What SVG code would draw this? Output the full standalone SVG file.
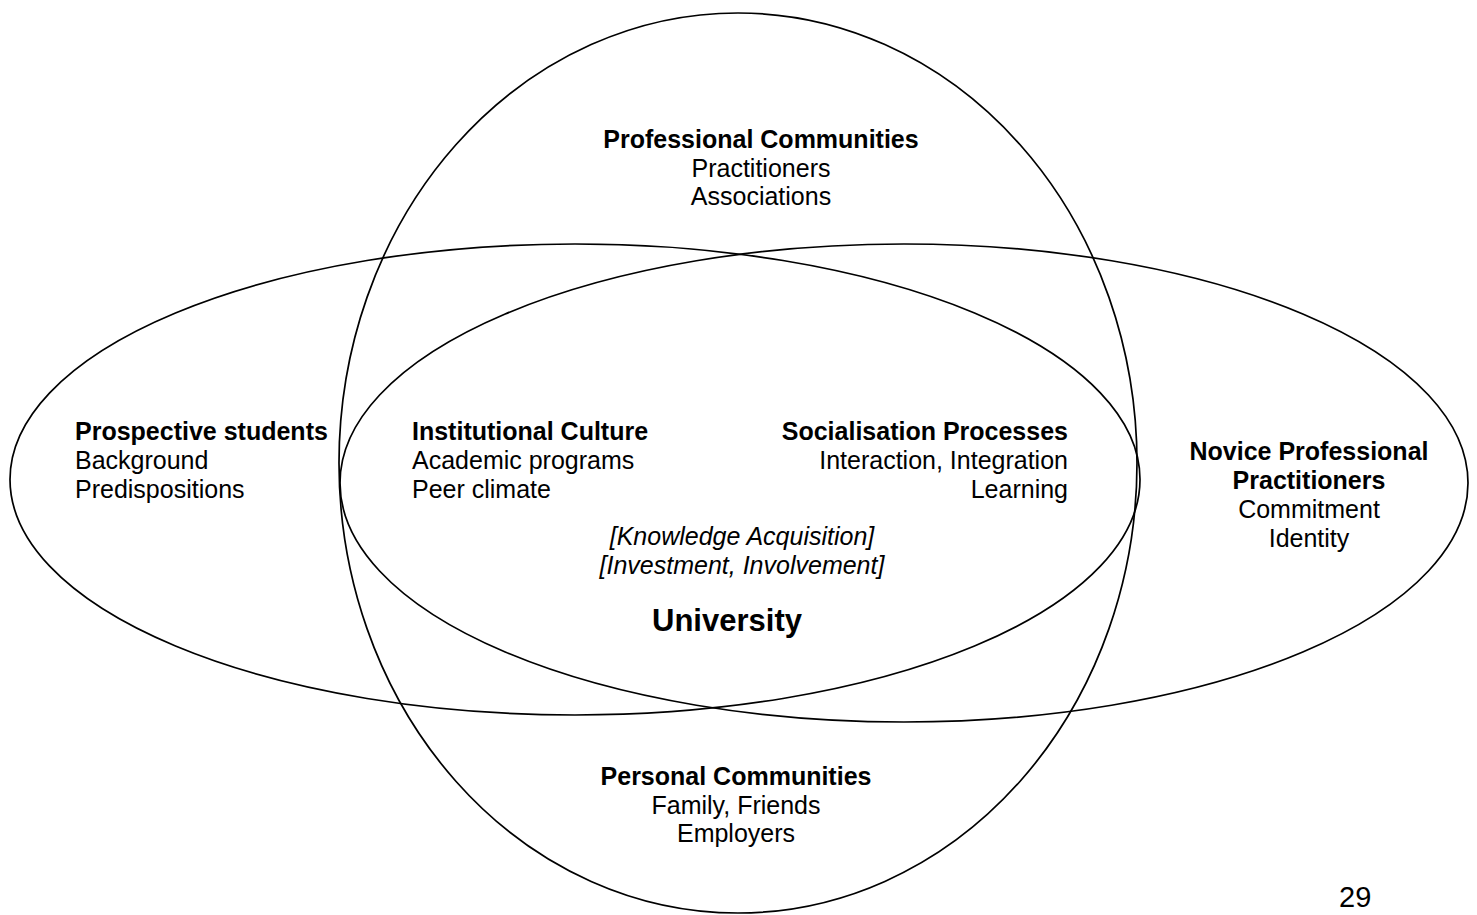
<svg xmlns="http://www.w3.org/2000/svg" width="1477" height="915" viewBox="0 0 1477 915">
  <style>
    .ring { fill: none; stroke: #000; stroke-width: 1.7; }
    text { font-family: "Liberation Sans", Arial, sans-serif; font-size: 25px; fill: #000; }
    .h { font-weight: bold; }
    .it { font-style: italic; }
    .mid { text-anchor: middle; }
    .end { text-anchor: end; }
  </style>
  <rect width="1477" height="915" fill="#fff"/>

  <g id="rings">
    <ellipse id="ring-prospective" class="ring" cx="575" cy="479.5" rx="565" ry="235.5"/>
    <ellipse id="ring-novice" class="ring" cx="904" cy="483" rx="564" ry="239"/>
    <ellipse id="ring-communities" class="ring" cx="738" cy="463" rx="399" ry="450" stroke-width="1.4"/>
  </g>

  <g id="professional-communities">
    <text class="h mid" x="761" y="148">Professional Communities</text>
    <text class="mid" x="761" y="177">Practitioners</text>
    <text class="mid" x="761" y="205">Associations</text>
  </g>

  <g id="prospective-students">
    <text class="h" x="75" y="440">Prospective students</text>
    <text x="75" y="469">Background</text>
    <text x="75" y="498">Predispositions</text>
  </g>

  <g id="institutional-culture">
    <text class="h" x="412" y="440">Institutional Culture</text>
    <text x="412" y="469">Academic programs</text>
    <text x="412" y="498">Peer climate</text>
  </g>

  <g id="socialisation-processes">
    <text class="h end" x="1068" y="440">Socialisation Processes</text>
    <text class="end" x="1068" y="469">Interaction, Integration</text>
    <text class="end" x="1068" y="498">Learning</text>
  </g>

  <g id="novice-practitioners">
    <text class="h mid" x="1309" y="460">Novice Professional</text>
    <text class="h mid" x="1309" y="489">Practitioners</text>
    <text class="mid" x="1309" y="518">Commitment</text>
    <text class="mid" x="1309" y="547">Identity</text>
  </g>

  <g id="university">
    <text class="it mid" x="742" y="545">[Knowledge Acquisition]</text>
    <text class="it mid" x="742" y="574">[Investment, Involvement]</text>
    <text class="h mid" x="727" y="631" style="font-size:31px">University</text>
  </g>

  <g id="personal-communities">
    <text class="h mid" x="736" y="785">Personal Communities</text>
    <text class="mid" x="736" y="814">Family, Friends</text>
    <text class="mid" x="736" y="842">Employers</text>
  </g>

  <text id="page-number" x="1339" y="907" style="font-size:29px">29</text>
</svg>
